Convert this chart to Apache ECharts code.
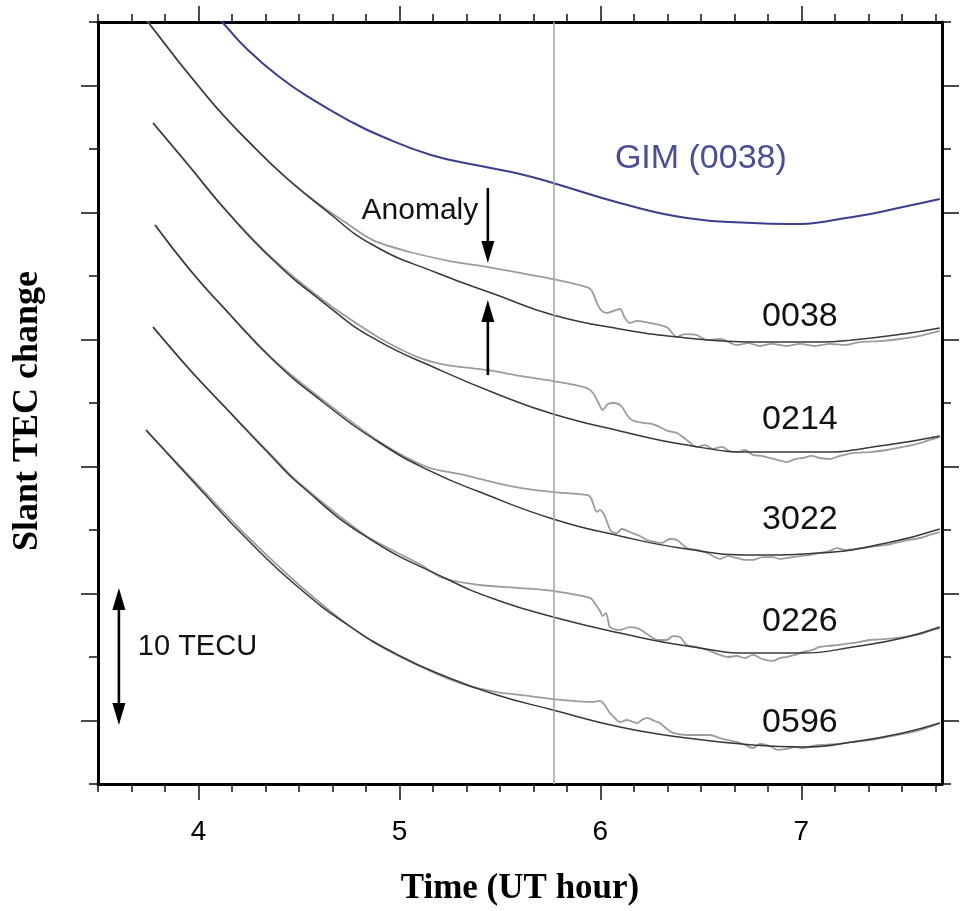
<!DOCTYPE html>
<html>
<head>
<meta charset="utf-8">
<script src="https://cdn.jsdelivr.net/npm/echarts@6.0.0/dist/echarts.min.js"></script>
<style>
html,body{margin:0;padding:0;background:#fff;}
#chart{width:960px;height:911px;}
</style>
</head>
<body>
<div id="chart"></div>
<script>
// ---------- tick values / labels ----------
const xMajorTicks = [4, 5, 6, 7];
const xTickLabels = ['4', '5', '6', '7'];
const yMajorTicks = [5, 15, 25, 35, 45, 55];
const yMinorTicks = [0, 10, 20, 30, 40, 50, 60];
const xMinorTicks = [];
for (let k = 21; k <= 46; k++) xMinorTicks.push(k / 6); // every 10 minutes

// ---------- data: [UT hour, slant TEC (relative, TECU)] ----------
const gimTEC = [[4.102,60.24],[4.122,59.92],[4.246,57.80],[4.410,55.59],[4.555,54.02],[4.744,52.28],[4.908,51.02],[5.157,49.53],[5.405,48.66],[5.600,48.03],[5.764,47.32],[6.097,45.75],[6.430,44.57],[6.759,44.17],[6.928,44.09],[7.256,44.65],[7.505,45.43],[7.689,46.06]];

const model0038 = [[3.734,60.31],[4.057,53.86],[4.291,49.92],[4.455,47.48],[4.619,45.35],[4.868,42.44],[5.201,40.16],[5.485,38.50],[5.764,36.93],[6.097,35.83],[6.430,35.12],[6.759,34.80],[7.092,34.80],[7.256,34.96],[7.505,35.43],[7.689,35.91]];
const obs0038 = [[3.734,60.31],[4.057,53.86],[4.291,49.92],[4.455,47.48],[4.619,45.43],[4.729,44.25],[4.868,42.83],[5.052,41.89],[5.251,41.18],[5.435,40.71],[5.600,40.24],[5.764,39.76],[5.933,39.13],[5.958,38.82],[5.983,37.87],[6.003,37.32],[6.032,37.09],[6.062,37.24],[6.097,37.40],[6.122,36.69],[6.147,36.30],[6.182,36.46],[6.221,36.38],[6.296,36.14],[6.336,35.91],[6.381,35.20],[6.420,35.43],[6.480,35.35],[6.530,34.96],[6.595,35.04],[6.679,34.57],[6.734,34.72],[6.794,34.49],[6.853,34.65],[6.928,34.49],[6.993,34.65],[7.067,34.49],[7.142,34.65],[7.216,34.57],[7.291,34.80],[7.391,34.88],[7.490,35.04],[7.590,35.28],[7.689,35.67]];

const model0214 = [[3.774,52.05],[3.958,48.58],[4.122,45.43],[4.371,41.26],[4.619,37.95],[4.868,35.12],[5.201,32.60],[5.485,30.71],[5.764,29.13],[6.097,27.80],[6.430,26.69],[6.759,26.14],[7.092,26.14],[7.425,26.69],[7.689,27.40]];
const obs0214 = [[3.774,52.05],[3.958,48.58],[4.122,45.43],[4.371,41.34],[4.619,38.11],[4.868,35.43],[5.002,34.25],[5.117,33.46],[5.236,32.99],[5.435,32.60],[5.600,32.13],[5.764,31.73],[5.933,31.18],[5.963,30.79],[5.988,30.08],[6.012,29.45],[6.037,29.92],[6.072,30.00],[6.107,29.69],[6.132,29.06],[6.157,28.66],[6.211,28.43],[6.256,28.35],[6.296,28.11],[6.336,27.80],[6.381,27.64],[6.430,27.09],[6.480,26.54],[6.520,26.69],[6.560,26.38],[6.604,26.54],[6.644,26.22],[6.679,26.14],[6.719,26.30],[6.759,25.91],[6.803,25.83],[6.843,25.67],[6.883,25.51],[6.928,25.35],[6.968,25.59],[7.007,25.67],[7.052,25.83],[7.092,25.67],[7.142,25.59],[7.191,25.83],[7.256,26.06],[7.341,26.14],[7.425,26.30],[7.505,26.54],[7.590,26.85],[7.639,27.09],[7.689,27.32]];

const model3022 = [[3.784,44.02],[3.958,40.47],[4.122,37.56],[4.371,33.39],[4.619,30.08],[4.903,26.85],[5.152,24.65],[5.400,22.99],[5.764,20.87],[6.097,19.53],[6.430,18.50],[6.759,18.03],[7.092,18.19],[7.425,18.98],[7.689,20.08]];
const obs3022 = [[3.784,44.02],[3.958,40.47],[4.122,37.56],[4.371,33.46],[4.619,30.24],[4.903,26.93],[5.137,24.96],[5.326,24.33],[5.400,24.02],[5.600,23.31],[5.764,22.99],[5.933,22.76],[5.953,22.52],[5.983,21.42],[5.998,21.57],[6.017,21.26],[6.037,20.47],[6.052,19.92],[6.082,19.76],[6.107,20.08],[6.147,19.84],[6.197,19.53],[6.231,19.21],[6.271,19.06],[6.306,18.98],[6.346,19.29],[6.381,19.21],[6.430,18.58],[6.480,18.43],[6.530,18.19],[6.560,17.95],[6.595,17.72],[6.634,17.95],[6.679,17.80],[6.719,17.64],[6.759,17.64],[6.808,17.87],[6.858,17.87],[6.893,17.72],[6.928,17.80],[6.993,17.95],[7.042,18.03],[7.092,18.19],[7.142,18.35],[7.177,18.58],[7.216,18.43],[7.256,18.50],[7.341,18.66],[7.425,18.82],[7.505,19.13],[7.590,19.37],[7.639,19.61],[7.689,19.84]];

const model0226 = [[3.774,35.98],[3.958,32.60],[4.122,29.84],[4.371,25.67],[4.495,23.70],[4.828,19.53],[5.236,16.14],[5.485,14.49],[5.764,13.15],[6.097,11.89],[6.430,10.87],[6.759,10.31],[7.007,10.31],[7.256,10.79],[7.505,11.50],[7.689,12.36]];
const obs0226 = [[3.774,35.98],[3.958,32.60],[4.122,29.84],[4.371,25.75],[4.495,23.78],[4.828,19.61],[5.102,17.30],[5.216,16.22],[5.400,15.67],[5.600,15.43],[5.764,15.20],[5.948,14.65],[5.978,14.09],[5.998,13.62],[6.012,13.23],[6.027,13.46],[6.047,12.36],[6.067,12.20],[6.097,12.13],[6.147,12.36],[6.182,12.28],[6.211,12.05],[6.261,11.50],[6.296,11.34],[6.331,11.34],[6.361,11.65],[6.396,11.57],[6.430,10.94],[6.480,10.79],[6.530,10.55],[6.560,10.39],[6.595,10.16],[6.634,10.00],[6.679,10.08],[6.719,9.92],[6.759,10.16],[6.808,9.84],[6.858,9.69],[6.893,9.92],[6.928,10.00],[6.968,10.16],[7.007,10.39],[7.052,10.55],[7.092,10.79],[7.132,10.87],[7.177,10.94],[7.216,11.02],[7.256,11.10],[7.341,11.34],[7.425,11.42],[7.505,11.57],[7.590,11.81],[7.639,12.05],[7.689,12.28]];

const model0596 = [[3.739,27.87],[3.998,23.39],[4.246,19.21],[4.495,15.51],[4.744,12.52],[4.993,10.16],[5.236,8.43],[5.485,7.01],[5.764,5.83],[6.097,4.49],[6.430,3.62],[6.759,3.07],[7.007,2.91],[7.256,3.31],[7.505,4.02],[7.689,4.80]];
const obs0596 = [[3.739,27.87],[3.998,23.54],[4.246,19.45],[4.495,15.75],[4.744,12.52],[4.903,10.87],[5.152,8.90],[5.316,7.87],[5.485,7.24],[5.600,7.01],[5.764,6.69],[5.963,6.46],[5.998,6.54],[6.022,6.22],[6.047,5.59],[6.072,5.20],[6.097,4.88],[6.132,5.04],[6.182,4.80],[6.206,5.04],[6.231,5.20],[6.271,4.96],[6.296,4.80],[6.331,4.33],[6.361,4.02],[6.430,3.86],[6.495,3.86],[6.545,3.86],[6.595,3.62],[6.634,3.46],[6.679,3.31],[6.719,3.07],[6.759,2.83],[6.794,3.15],[6.843,2.99],[6.883,2.68],[6.928,2.76],[6.968,2.91],[7.007,2.83],[7.052,2.99],[7.092,3.07],[7.177,3.15],[7.256,3.31],[7.341,3.46],[7.425,3.70],[7.505,3.94],[7.590,4.25],[7.639,4.49],[7.689,4.80]];

const eventTime = [5.766]; // vertical reference line (UT hour)

// ---------- annotations (anchored in data coordinates) ----------
const stationNames = ['0038', '0214', '3022', '0226', '0596'];
const stationLabelAnchor = [[6.993, 36.78], [6.993, 28.67], [6.993, 20.79], [6.993, 12.76], [6.993, 4.81]];
const textNotes = [
  {text: 'GIM (0038)', at: [6.50, 49.25], size: 34, color: '#4a4e94'},
  {text: 'Anomaly', at: [5.102, 45.15], size: 30, color: '#111'},
  {text: '10 TECU', at: [3.995, 10.75], size: 29, color: '#111'}
];
const arrowSpecs = [
  {x: 5.44, from: 46.93, to: 41.02, both: false},
  {x: 5.44, from: 32.20, to: 38.11, both: false},
  {x: 3.604, from: 15.43, to: 4.65, both: true}
];

const stations = [
  {name: '0038', obs: obs0038, model: model0038},
  {name: '0214', obs: obs0214, model: model0214},
  {name: '3022', obs: obs3022, model: model3022},
  {name: '0226', obs: obs0226, model: model0226},
  {name: '0596', obs: obs0596, model: model0596}
];

const SANS = '"Liberation Sans", Arial, Helvetica, sans-serif';
const SERIF = '"Liberation Serif", "Times New Roman", serif';

const chart = echarts.init(document.getElementById('chart'), null, {renderer: 'canvas'});

function xAxisDef(pos, major, withLabel) {
  return {
    type: 'value', position: pos, min: 3.5, max: 7.7,
    axisLine: {show: major, onZero: false, lineStyle: {color: '#000', width: 3}},
    axisTick: {show: true, inside: false, length: major ? 16 : 8,
      customValues: major ? xMajorTicks : xMinorTicks,
      lineStyle: {color: '#111', width: 1.5}},
    axisLabel: withLabel ? {show: true, customValues: xMajorTicks, margin: 34,
      formatter: v => xTickLabels[xMajorTicks.indexOf(Math.round(v))] || '',
      color: '#000', fontSize: 28, fontFamily: SANS} : {show: false},
    splitLine: {show: false},
    name: withLabel ? 'Time (UT hour)' : '',
    nameLocation: 'middle', nameGap: 87,
    nameTextStyle: {fontFamily: SERIF, fontWeight: 'bold', fontSize: 35, color: '#000'}
  };
}
function yAxisDef(pos, major, withName) {
  return {
    type: 'value', position: pos, min: 0, max: 60,
    axisLine: {show: major, onZero: false, lineStyle: {color: '#000', width: 3}},
    axisTick: {show: true, inside: false, length: major ? 17 : 9,
      customValues: major ? yMajorTicks : yMinorTicks,
      lineStyle: {color: '#111', width: 1.5}},
    axisLabel: {show: false},
    splitLine: {show: false},
    name: withName ? 'Slant TEC change' : '',
    nameLocation: 'middle', nameGap: 52,
    nameTextStyle: {fontFamily: SERIF, fontWeight: 'bold', fontSize: 36, color: '#000', padding: [0, 16, 0, 0]}
  };
}

const series = [];
// vertical reference line
series.push({
  type: 'line', data: [], z: 1, silent: true,
  markLine: {silent: true, symbol: ['none', 'none'], label: {show: false},
    lineStyle: {color: '#a8a8a8', width: 1.6, type: 'solid'},
    data: eventTime.map(t => ({xAxis: t}))}
});
stations.forEach(s => {
  series.push({
    name: s.name + ' obs', type: 'line', data: s.obs, showSymbol: false, symbol: 'none',
    smooth: 0.3, z: 2, silent: true,
    lineStyle: {color: '#9c9c9c', width: 1.8}
  });
  series.push({
    name: s.name + ' model', type: 'line', data: s.model, showSymbol: false, symbol: 'none',
    smooth: 0.5, z: 3, silent: true,
    lineStyle: {color: '#383838', width: 1.5}
  });
});
series.push({
  name: 'GIM (0038)', type: 'line', data: gimTEC, showSymbol: false, symbol: 'none',
  smooth: 0.5, z: 3, silent: true,
  lineStyle: {color: '#3b3e8e', width: 2}
});
// station labels
series.push({
  type: 'custom', coordinateSystem: 'cartesian2d', silent: true, z: 5,
  data: stationLabelAnchor,
  renderItem: (params, api) => {
    const p = api.coord([api.value(0), api.value(1)]);
    return {type: 'text', style: {text: stationNames[params.dataIndex], x: p[0], y: p[1],
      fill: '#111', fontSize: 34, fontFamily: SANS, align: 'center', verticalAlign: 'middle'}};
  }
});
// other texts
series.push({
  type: 'custom', coordinateSystem: 'cartesian2d', silent: true, z: 5,
  data: textNotes.map(t => t.at),
  renderItem: (params, api) => {
    const t = textNotes[params.dataIndex];
    const p = api.coord([api.value(0), api.value(1)]);
    return {type: 'text', style: {text: t.text, x: p[0], y: p[1],
      fill: t.color, fontSize: t.size, fontFamily: SANS, align: 'center', verticalAlign: 'middle'}};
  }
});
// arrows
series.push({
  type: 'custom', coordinateSystem: 'cartesian2d', silent: true, z: 6,
  data: arrowSpecs.map(a => [a.x, a.from, a.to]),
  renderItem: (params, api) => {
    const a = arrowSpecs[params.dataIndex];
    const p0 = api.coord([api.value(0), api.value(1)]);
    const p1 = api.coord([api.value(0), api.value(2)]);
    const headL = 22, headW = 13;
    const dir = Math.sign(p1[1] - p0[1]);
    const children = [];
    let y0 = p0[1], y1 = p1[1];
    children.push({type: 'polygon', shape: {points: [[p1[0], p1[1]], [p1[0] - headW / 2, p1[1] - dir * headL], [p1[0] + headW / 2, p1[1] - dir * headL]]}, style: {fill: '#000'}});
    y1 = p1[1] - dir * headL * 0.8;
    if (a.both) {
      children.push({type: 'polygon', shape: {points: [[p0[0], p0[1]], [p0[0] - headW / 2, p0[1] + dir * headL], [p0[0] + headW / 2, p0[1] + dir * headL]]}, style: {fill: '#000'}});
      y0 = p0[1] + dir * headL * 0.8;
    }
    children.push({type: 'line', shape: {x1: p0[0], y1: y0, x2: p1[0], y2: y1}, style: {stroke: '#000', lineWidth: 2.6}});
    return {type: 'group', children: children};
  }
});

chart.setOption({
  animation: false,
  backgroundColor: '#ffffff',
  grid: {left: 98, right: 18, top: 22, bottom: 127, containLabel: false, outerBoundsMode: 'none'},
  xAxis: [xAxisDef('bottom', true, true), xAxisDef('bottom', false, false), xAxisDef('top', true, false), xAxisDef('top', false, false)],
  yAxis: [yAxisDef('left', true, true), yAxisDef('left', false, false), yAxisDef('right', true, false), yAxisDef('right', false, false)],
  series: series
});
</script>
</body>
</html>
